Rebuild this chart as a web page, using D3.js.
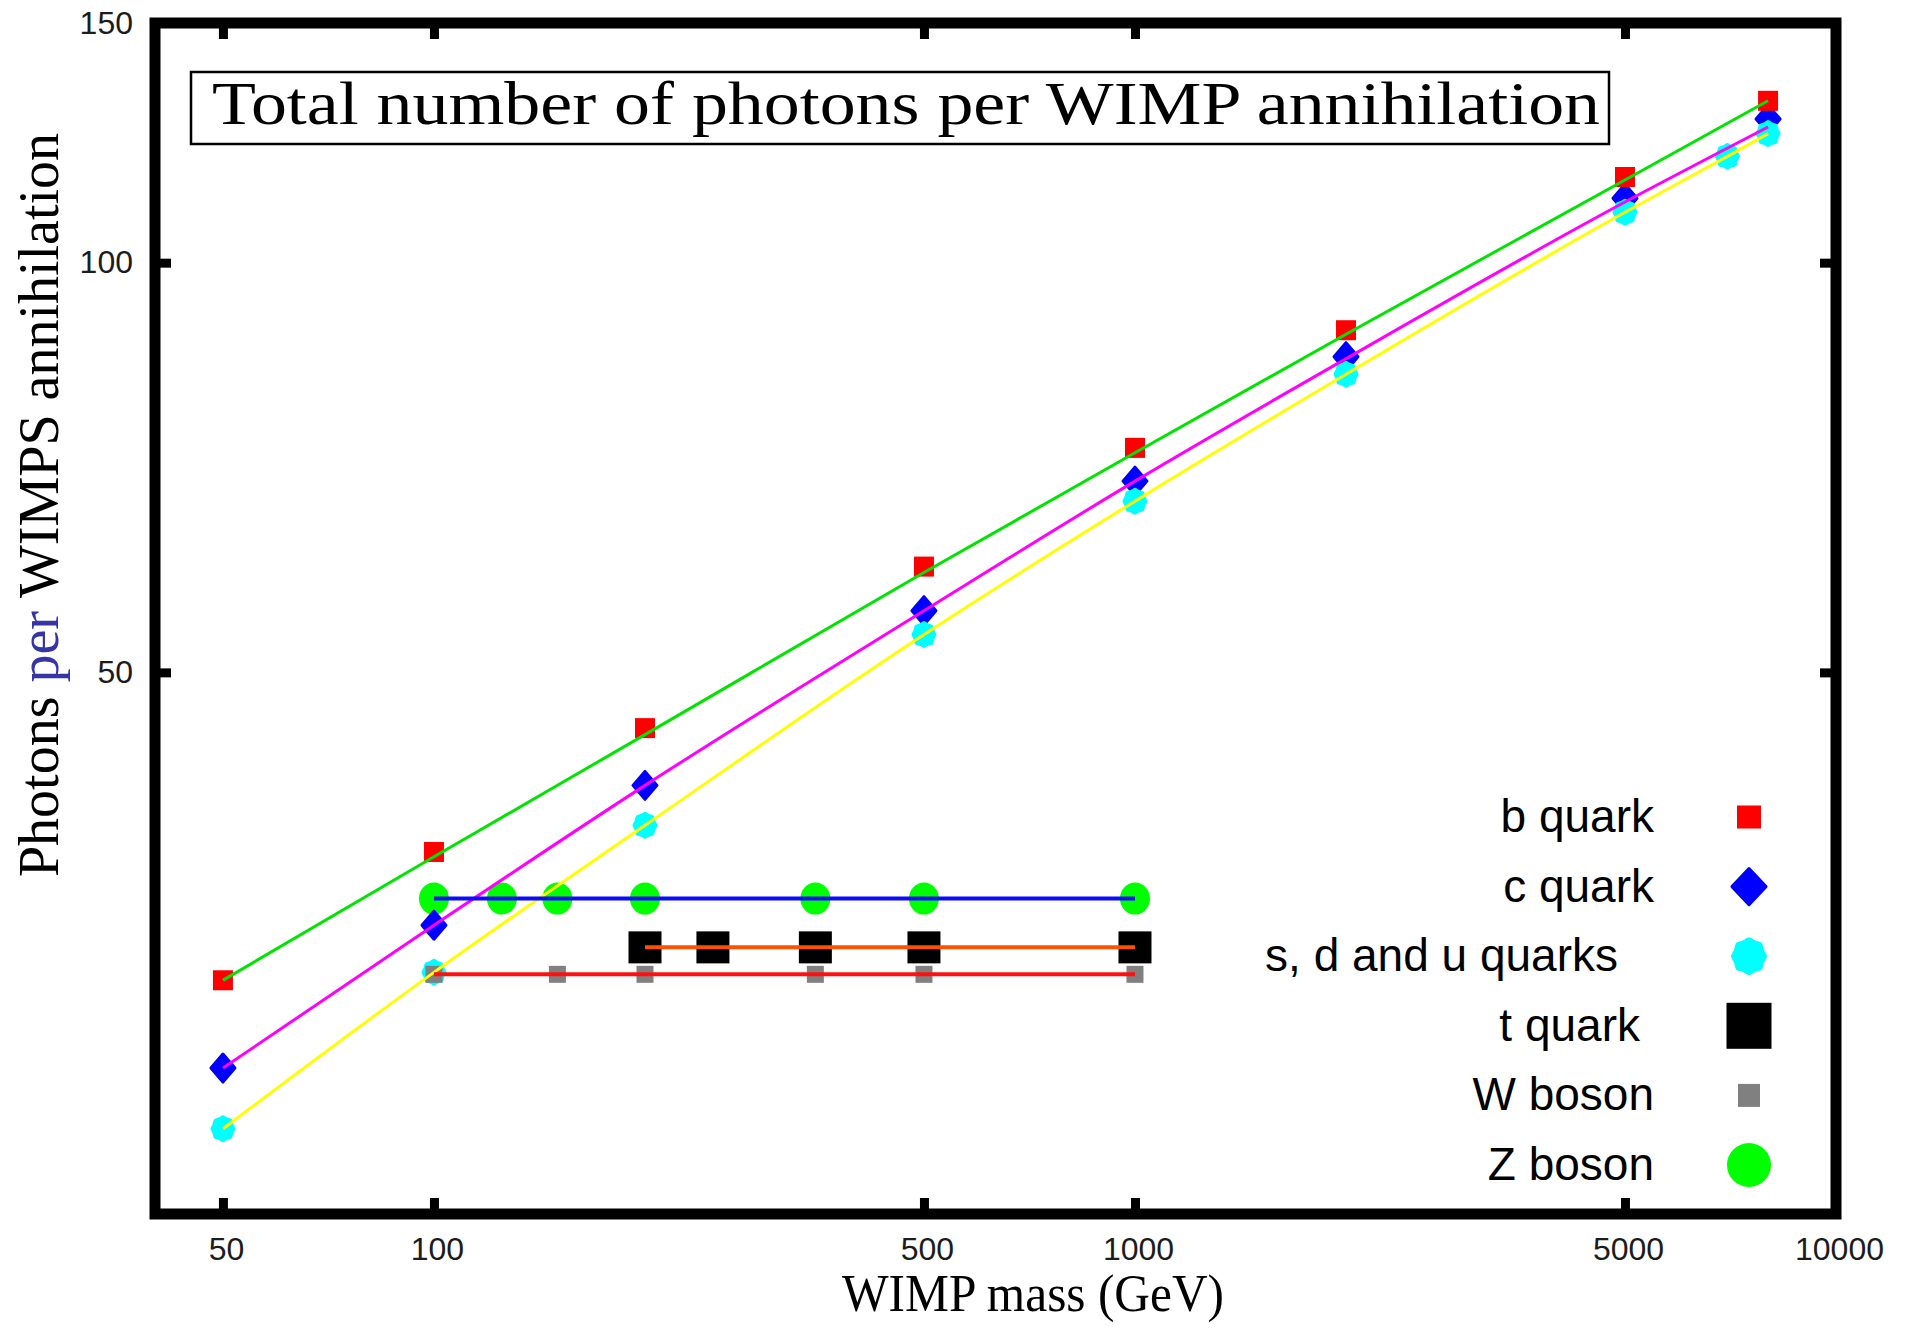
<!DOCTYPE html>
<html>
<head>
<meta charset="utf-8">
<script src="https://cdn.jsdelivr.net/npm/d3@7"></script>
<style>
  html, body { margin: 0; padding: 0; background: #ffffff; }
  svg { display: block; }
</style>
</head>
<body>
<svg id="chart" width="1906" height="1328"></svg>
<script>
// WIMP mass (GeV) and number of photons per annihilation, per channel
const massB = [50, 100, 200, 500, 1000, 2000, 5000, 8000];
const photonsB = [29.7, 36.9, 45.5, 59.8, 73.1, 89.2, 115.6, 131.5];

const massC = [50, 100, 200, 500, 1000, 2000, 5000, 8000];
const photonsC = [25.6, 32.6, 41.3, 55.5, 69.1, 85.3, 111.5, 127.5];

const massSdu = [50, 100, 200, 500, 1000, 2000, 5000, 7000, 8000];
const photonsSdu = [23.1, 30.1, 38.6, 53.3, 66.8, 82.8, 108.9, 119.7, 124.4];

const massT = [200, 250, 350, 500, 1000];
const photonsT = [31.4, 31.4, 31.4, 31.4, 31.4];

const massW = [100, 150, 200, 350, 500, 1000];
const photonsW = [30.0, 30.0, 30.0, 30.0, 30.0, 30.0];

const massZ = [100, 125, 150, 200, 350, 500, 1000];
const photonsZ = [34.1, 34.1, 34.1, 34.1, 34.1, 34.1, 34.1];

// Smooth fitted curves of the quark channels, sampled at the channel masses
const fitB = [29.7, 36.6, 45.0, 59.2, 72.5, 88.6, 115.0, 131.5];
const fitC = [25.6, 32.6, 41.3, 55.5, 69.1, 85.0, 110.8, 125.8];
const fitSdu = [23.1, 30.1, 38.6, 53.3, 66.8, 82.8, 108.9, 119.7, 124.4];

const legendLabels = ["b quark", "c quark", "s, d and u quarks", "t quark", "W boson", "Z boson"];
const xTickValues = [50, 100, 500, 1000, 5000, 10000];
const yTickValues = [50, 100, 150];

const svg = d3.select("#chart");

const plotLeft = 155, plotRight = 1836, plotTop = 23, plotBottom = 1214;
const x = d3.scaleLog().domain([40, 10000]).range([plotLeft, plotRight]);
const y = d3.scaleLog().domain([20, 150]).range([plotBottom, plotTop]);

const zip = (xs, ys) => xs.map((m, i) => [m, ys[i]]);

// ---- axes (inward ticks on all four sides) ----
const tickFont = "Liberation Sans, Arial, sans-serif";
const gx = svg.append("g").attr("transform", `translate(0,${plotBottom})`)
  .call(d3.axisBottom(x).tickValues(xTickValues).tickFormat(d3.format("d")).tickSize(-16).tickPadding(23));
const gy = svg.append("g").attr("transform", `translate(${plotLeft},0)`)
  .call(d3.axisLeft(y).tickValues(yTickValues).tickFormat(d3.format("d")).tickSize(-16).tickPadding(22));
const gxt = svg.append("g").attr("transform", `translate(0,${plotTop})`)
  .call(d3.axisTop(x).tickValues(xTickValues).tickFormat("").tickSize(-16));
const gyr = svg.append("g").attr("transform", `translate(${plotRight},0)`)
  .call(d3.axisRight(y).tickValues(yTickValues).tickFormat("").tickSize(-16));

[gx, gy, gxt, gyr].forEach(g => {
  g.select(".domain").remove();
  g.selectAll(".tick line").attr("stroke", "#000").attr("stroke-width", 9);
  g.selectAll(".tick text").attr("fill", "#1c1c1c").attr("font-family", tickFont).attr("font-size", 32);
});
gx.selectAll(".tick text").attr("dx", 3);

// plot frame
svg.append("rect")
  .attr("x", plotLeft).attr("y", plotTop)
  .attr("width", plotRight - plotLeft).attr("height", plotBottom - plotTop)
  .attr("fill", "none").attr("stroke", "#000").attr("stroke-width", 11);

// ---- marker shapes ----
function drawSquare(g, cx, cy, w, h, color) {
  g.append("rect").attr("x", cx - w / 2).attr("y", cy - h / 2)
    .attr("width", w).attr("height", h).attr("fill", color);
}
function drawDiamond(g, cx, cy, w, h, color) {
  g.append("path")
    .attr("d", `M${cx},${cy - h / 2}L${cx + w / 2},${cy}L${cx},${cy + h / 2}L${cx - w / 2},${cy}Z`)
    .attr("fill", color).attr("stroke", color).attr("stroke-width", 3).attr("stroke-linejoin", "round");
}
function drawBlob(g, cx, cy, w, h, color) {
  // rounded octagonal dot
  const a = w / 2, b = h / 2;
  const pts = d3.range(16).map(k => {
    const t = (k / 16) * 2 * Math.PI;
    const r = (k % 2 === 0) ? 1 : 0.9;
    return [cx + a * r * Math.cos(t), cy + b * r * Math.sin(t)];
  });
  g.append("path").attr("d", d3.line().curve(d3.curveCardinalClosed.tension(0.3))(pts))
    .attr("fill", color);
}
function drawOval(g, cx, cy, w, h, color) {
  g.append("ellipse").attr("cx", cx).attr("cy", cy).attr("rx", w / 2).attr("ry", h / 2).attr("fill", color);
}

const series = [
  { key: "Z", mass: massZ, val: photonsZ, draw: (g, a, b) => drawOval(g, a, b, 30, 32, "#00ff00") },
  { key: "t", mass: massT, val: photonsT, draw: (g, a, b) => drawSquare(g, a, b, 33, 32, "#000000") },
  { key: "c", mass: massC, val: photonsC, draw: (g, a, b) => drawDiamond(g, a, b, 24, 28, "#0000ff") },
  { key: "sdu", mass: massSdu, val: photonsSdu, draw: (g, a, b) => drawBlob(g, a, b, 25, 27, "#00ffff") },
  { key: "b", mass: massB, val: photonsB, draw: (g, a, b) => drawSquare(g, a, b, 20, 20, "#ff0000") },
  { key: "W", mass: massW, val: photonsW, draw: (g, a, b) => drawSquare(g, a, b, 17, 17, "#808080") }
];

const markers = svg.append("g");
series.forEach(s => {
  const g = markers.append("g").attr("class", "series-" + s.key);
  zip(s.mass, s.val).forEach(([m, v]) => s.draw(g, x(m), y(v)));
});

// ---- lines ----
const curve = d3.line().x(d => x(d[0])).y(d => y(d[1])).curve(d3.curveMonotoneX);
const lines = svg.append("g").attr("fill", "none");
[[massB, fitB, "#00e400"], [massC, fitC, "#ff00ff"], [massSdu, fitSdu, "#ffff00"]].forEach(([ms, vals, color]) => {
  lines.append("path").attr("d", curve(zip(ms, vals)))
    .attr("stroke", color).attr("stroke-width", 3);
});
// flat levels of the heavy channels, spanning each channel's mass range
[[massZ, photonsZ, "#0a0aff"], [massT, photonsT, "#ff5000"], [massW, photonsW, "#ff1010"]].forEach(([ms, vs, color]) => {
  lines.append("path").attr("d", curve(zip(ms, vs)))
    .attr("stroke", color).attr("stroke-width", 4);
});

// ---- legend ----
const legend = svg.append("g");
const legendRight = [1654, 1654, 1618, 1640, 1654, 1654];
const legendDraw = [
  (g, a, b) => drawSquare(g, a, b, 24, 23, "#ff0000"),
  (g, a, b) => drawDiamond(g, a, b, 34, 36, "#0000ff"),
  (g, a, b) => drawBlob(g, a, b, 36, 38, "#00ffff"),
  (g, a, b) => drawSquare(g, a, b, 45, 46, "#000000"),
  (g, a, b) => drawSquare(g, a, b, 22, 23, "#808080"),
  (g, a, b) => drawOval(g, a, b, 44, 44, "#00ff00")
];
legendLabels.forEach((label, i) => {
  const cy = 817 + i * 69.6;
  legend.append("text")
    .attr("x", legendRight[i]).attr("y", cy + 15)
    .attr("text-anchor", "end")
    .attr("font-family", "Liberation Sans, Arial, sans-serif")
    .attr("font-size", 46).attr("fill", "#000")
    .text(label);
  legendDraw[i](legend, 1749, cy);
});

// ---- title box ----
svg.append("rect").attr("x", 191).attr("y", 72).attr("width", 1418).attr("height", 72)
  .attr("fill", "#fff").attr("stroke", "#000").attr("stroke-width", 2.5);
svg.append("text").attr("x", 212).attr("y", 124)
  .attr("font-family", "Liberation Serif, Times New Roman, serif")
  .attr("font-size", 62).attr("fill", "#000")
  .attr("textLength", 1388).attr("lengthAdjust", "spacingAndGlyphs")
  .text("Total number of photons per WIMP annihilation");

// ---- axis titles ----
svg.append("text").attr("x", 1033).attr("y", 1311)
  .attr("text-anchor", "middle")
  .attr("font-family", "Liberation Serif, Times New Roman, serif")
  .attr("font-size", 52).attr("fill", "#000")
  .attr("textLength", 382).attr("lengthAdjust", "spacingAndGlyphs")
  .text("WIMP mass (GeV)");

const yTitle = svg.append("text")
  .attr("transform", "translate(58,505) rotate(-90)")
  .attr("text-anchor", "middle")
  .attr("font-family", "Liberation Serif, Times New Roman, serif")
  .attr("font-size", 56).attr("fill", "#000");
yTitle.append("tspan").text("Photons ");
yTitle.append("tspan").attr("fill", "#3535a5").text("per");
yTitle.append("tspan").text(" WIMPS annihilation");
</script>
</body>
</html>
